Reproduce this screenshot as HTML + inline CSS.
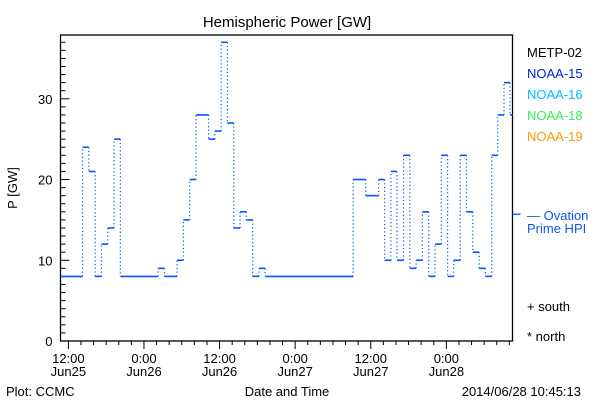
<!DOCTYPE html>
<html><head><meta charset="utf-8"><style>
html,body{margin:0;padding:0;background:#fff;}
svg{display:block;font-family:"Liberation Sans","DejaVu Sans",sans-serif;}
</style></head><body>
<svg id="chart" width="600" height="400" viewBox="0 0 600 400">
<rect x="0" y="0" width="600" height="400" fill="#fff"/>
<text x="287" y="27" font-size="15" text-anchor="middle">Hemispheric Power [GW]</text>
<g id="axes"></g>
<g id="series"></g>
<text transform="translate(17,188) rotate(-90)" font-size="13" text-anchor="middle">P [GW]</text>
<text x="287" y="396" font-size="13" text-anchor="middle">Date and Time</text>
<text x="6" y="396" font-size="13">Plot: CCMC</text>
<text x="581" y="396" font-size="13" text-anchor="end">2014/06/28 10:45:13</text>
<g font-size="13">
<text x="527" y="57" fill="#000">METP-02</text>
<text x="527" y="78" fill="#0022dd">NOAA-15</text>
<text x="527" y="99" fill="#00bbff">NOAA-16</text>
<text x="527" y="120" fill="#33ee55">NOAA-18</text>
<text x="527" y="141" fill="#ff9900">NOAA-19</text>
<text x="527" y="220" fill="#1155ee">— Ovation</text>
<text x="527" y="233" fill="#1155ee">Prime HPI</text>
<text x="527" y="311" fill="#000">+ south</text>
<text x="527" y="341" fill="#000">* north</text>
</g>
</svg>
<script>
// hours since Jun25 00:00, step start times and values
const stepTimes = [10.75,14.25,15.25,16.25,17.25,18.25,19.25,20.25,26.25,27.25,29.25,30.25,31.25,32.25,34.25,35.25,36.25,37.25,38.25,39.25,40.25,41.25,42.25,43.25,57.2,59.2,61.25,62.2,63.2,64.15,65.2,66.2,67.2,68.2,69.2,70.2,71.2,72.2,73.15,74.2,75.2,76.2,77.2,78.2,79.2,80.15,81.15,82.1];
const stepValues = [8,24,21,8,12,14,25,8,9,8,10,15,20,28,25,26,37,27,14,16,15,8,9,8,20,18,20,10,21,10,23,9,10,16,8,12,23,8,10,23,16,11,9,8,23,28,32,28];
const endTime = 82.5;
const yTicks = [0,10,20,30];
const xTickHours = [12,24,36,48,60,72];
const xTickLabels = [["12:00","Jun25"],["0:00","Jun26"],["12:00","Jun26"],["0:00","Jun27"],["12:00","Jun27"],["0:00","Jun28"]];
const hpiValue = 15.7;

const L=60.5,R=512.5,T=35,B=341,t0=10.75,t1=82.5,yMax=37.9;
const NS="http://www.w3.org/2000/svg";
function X(h){return L+(h-t0)*(R-L)/(t1-t0);}
function Y(v){return B-v*(B-T)/yMax;}
function mk(tag,attrs,parent){const e=document.createElementNS(NS,tag);for(const k in attrs)e.setAttribute(k,attrs[k]);parent.appendChild(e);return e;}
const ax=document.getElementById('axes'),se=document.getElementById('series');
const box=mk('rect',{x:L,y:T,width:R-L,height:B-T,fill:'none',stroke:'#000','stroke-width':1.3},ax);


for(let v=0;v<=37;v++){
  const big=v%10===0;
  const t=mk('line',{x1:L,x2:L+(big?9:5),y1:Y(v),y2:Y(v),stroke:'#000','stroke-width':1},ax);
  
  
}
yTicks.forEach(v=>{
  const t=mk('text',{x:L-8,y:Y(v)+5,'font-size':13,'text-anchor':'end'},ax);t.textContent=v;
  
  
});
for(let h=12;h<=82;h+=2){
  const big=h%12===0;
  const t=mk('line',{x1:X(h),x2:X(h),y1:B,y2:B+(big?8:4),stroke:'#000','stroke-width':1},ax);
  
  
}
xTickHours.forEach((h,i)=>{
  const t=mk('text',{x:X(h),y:B+22,'font-size':13,'text-anchor':'middle'},ax);t.textContent=xTickLabels[i][0];
  
  
  const t2=mk('text',{x:X(h),y:B+35,'font-size':13,'text-anchor':'middle'},ax);t2.textContent=xTickLabels[i][1];
  
  
});
for(let i=0;i<stepTimes.length;i++){
  const x1=X(stepTimes[i]),x2=X(i+1<stepTimes.length?stepTimes[i+1]:endTime),y=Y(stepValues[i]);
  const s=mk('line',{x1:x1,x2:x2,y1:y,y2:y,stroke:'#0055ff','stroke-width':1.6},se);
  
  
  if(i+1<stepTimes.length){
    const c=mk('line',{x1:x2,x2:x2,y1:y,y2:Y(stepValues[i+1]),stroke:'#0055ff','stroke-width':1.2,'stroke-dasharray':'1.2 2.5'},se);
    
    
  }
}
const m=mk('line',{x1:R,x2:R+8,y1:Y(hpiValue),y2:Y(hpiValue),stroke:'#0055ff','stroke-width':1.3},se);


</script>
</body></html>
